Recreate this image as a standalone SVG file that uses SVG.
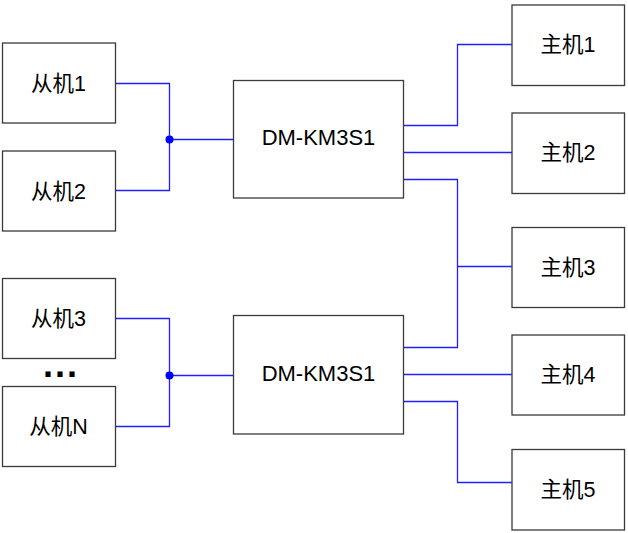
<svg xmlns="http://www.w3.org/2000/svg" width="628" height="533" viewBox="0 0 628 533">
<style>
.box{fill:#fff;stroke:#3a3a3a;stroke-width:1.3}
.lbl{font-family:"Liberation Sans","Noto Sans CJK SC",sans-serif;font-size:21.5px;fill:#000;text-anchor:middle}
.big{font-size:22px}
.ln{fill:none;stroke:#2020ff;stroke-width:1.3}
.dot{fill:#0000ff}
</style>
<rect width="628" height="533" fill="#fff"/>
<g id="connectors">
<polyline class="ln" points="115.5,83.5 169.5,83.5 169.5,190.5 115.5,190.5"/>
<line class="ln" x1="169.5" y1="139.5" x2="233.5" y2="139.5"/>
<circle class="dot" cx="169.5" cy="139.5" r="4"/>
<polyline class="ln" points="115.5,318.5 169.5,318.5 169.5,426.5 115.5,426.5"/>
<line class="ln" x1="169.5" y1="375.5" x2="233.5" y2="375.5"/>
<circle class="dot" cx="169.5" cy="375.5" r="4"/>
<polyline class="ln" points="404,125.5 457.5,125.5 457.5,44.5 512,44.5"/>
<line class="ln" x1="404" y1="152.5" x2="512" y2="152.5"/>
<polyline class="ln" points="404,179.5 457.5,179.5 457.5,347.5 404,347.5"/>
<line class="ln" x1="457.5" y1="266.5" x2="512" y2="266.5"/>
<line class="ln" x1="404" y1="374.5" x2="512" y2="374.5"/>
<polyline class="ln" points="404,401.5 457.5,401.5 457.5,482.5 512,482.5"/>
</g>
<g id="slave1"><rect class="box" x="2.5" y="43" width="113" height="80"/><text class="lbl" x="58.5" y="90.5">从机1</text></g>
<g id="slave2"><rect class="box" x="2.5" y="151" width="113" height="80"/><text class="lbl" x="58.5" y="198.5">从机2</text></g>
<g id="slave3"><rect class="box" x="2.5" y="278.5" width="113" height="80"/><text class="lbl" x="58.5" y="326">从机3</text></g>
<g id="slaveN"><rect class="box" x="2.5" y="386.5" width="113" height="80"/><text class="lbl" x="58.5" y="434">从机N</text></g>
<g id="ellipsis"><text x="43" y="377" style="font-family:'Liberation Sans',sans-serif;font-size:36px;font-weight:bold;letter-spacing:2px">...</text></g>
<g id="switch1"><rect class="box" x="233.5" y="80.5" width="170" height="117.5"/><text class="lbl big" x="318.5" y="145">DM-KM3S1</text></g>
<g id="switch2"><rect class="box" x="233.5" y="315.5" width="170" height="118.5"/><text class="lbl big" x="318.5" y="381">DM-KM3S1</text></g>
<g id="host1"><rect class="box" x="512" y="5" width="112.5" height="80.5"/><text class="lbl" x="568" y="52">主机1</text></g>
<g id="host2"><rect class="box" x="512" y="113" width="112.5" height="80.5"/><text class="lbl" x="568" y="160">主机2</text></g>
<g id="host3"><rect class="box" x="512" y="227.5" width="112.5" height="80"/><text class="lbl" x="568" y="274.5">主机3</text></g>
<g id="host4"><rect class="box" x="512" y="335" width="112.5" height="80"/><text class="lbl" x="568" y="382">主机4</text></g>
<g id="host5"><rect class="box" x="512" y="449.5" width="112.5" height="80.5"/><text class="lbl" x="568" y="497">主机5</text></g>
</svg>
